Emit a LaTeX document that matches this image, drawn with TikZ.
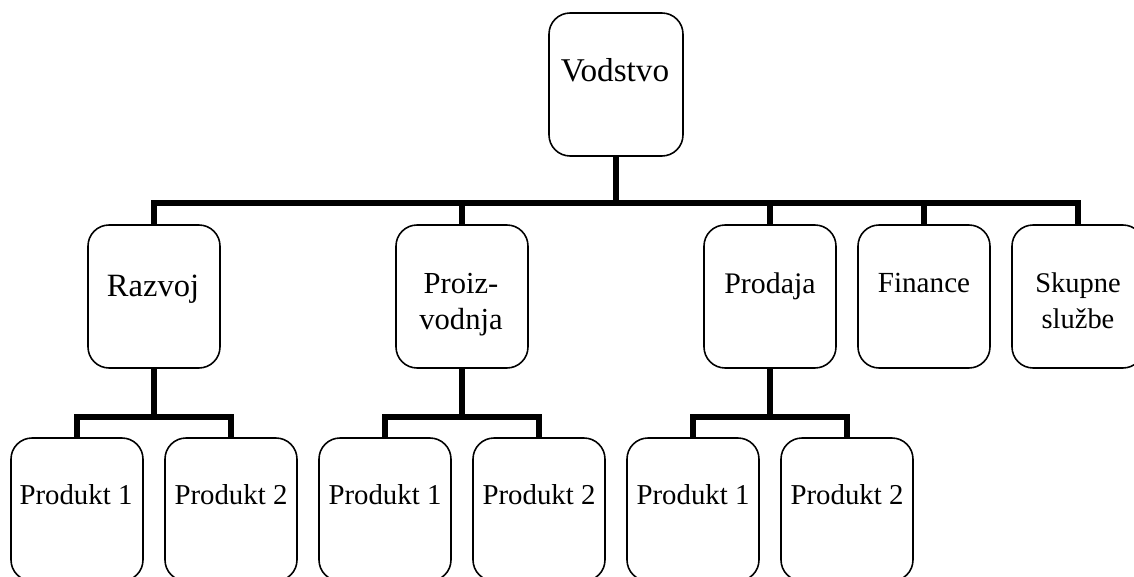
\documentclass[tikz,border=0pt]{standalone}
\usepackage{fontspec}
\setmainfont{Liberation Serif}
\begin{document}
\begin{tikzpicture}[x=0.02cm,y=-0.02cm,
  box/.style={draw=black, line width=0.9pt, rounded corners=12pt, minimum width=132*0.02cm, minimum height=143*0.02cm, inner sep=0pt},
  lbl/.style={inner sep=0pt, align=center},
  fs/.style={font=\fontsize{#1}{20.5}\selectfont},
  conn/.style={line width=3.4pt, line cap=butt}]
\useasboundingbox (0,0) rectangle (1134,577);
\fill[white] (0,0) rectangle (1134,577);
% boxes
\node[box, minimum width=134*0.02cm] (vod) at (616,84.5) {};
\node[box] (raz) at (154,296.5) {};
\node[box] (pro) at (462,296.5) {};
\node[box] (prd) at (770,296.5) {};
\node[box] (fin) at (924,296.5) {};
\node[box] (sku) at (1078,296.5) {};
\node[box] (r1) at (77,509.5) {};
\node[box] (r2) at (231,509.5) {};
\node[box] (p1) at (385,509.5) {};
\node[box] (p2) at (539,509.5) {};
\node[box] (d1) at (693,509.5) {};
\node[box] (d2) at (847,509.5) {};
% labels
\node[lbl, fs=18.9, anchor=base] (tvod) at (615,82) {Vodstvo};
\node[lbl, fs=18.5, anchor=base] (traz) at (153,297) {Razvoj};
\node[lbl, fs=17.4] (tpro) at (461,305) {Proiz-\\vodnja};
\node[lbl, fs=17, anchor=base] (tprd) at (770,294) {Prodaja};
\node[lbl, fs=16.6, anchor=base] (tfin) at (924,293) {Finance};
\node[lbl, fs=16.2] (tsku) at (1078,301) {Skupne\\službe};
\node[lbl, fs=16.4, anchor=base] (tr1) at (76,505) {Produkt 1};
\node[lbl, fs=16.4, anchor=base] (tr2) at (231,505) {Produkt 2};
\node[lbl, fs=16.4, anchor=base] (tp1) at (385,505) {Produkt 1};
\node[lbl, fs=16.4, anchor=base] (tp2) at (539,505) {Produkt 2};
\node[lbl, fs=16.4, anchor=base] (td1) at (693,505) {Produkt 1};
\node[lbl, fs=16.4, anchor=base] (td2) at (847,505) {Produkt 2};
% connectors
\coordinate (bus) at (616,203);
\draw[conn] (vod.south) -- (bus);
\draw[conn] (raz.north) |- (bus);
\draw[conn] (sku.north) |- (bus);
\draw[conn] (pro.north) -- (pro.north |- bus);
\draw[conn] (prd.north) -- (prd.north |- bus);
\draw[conn] (fin.north) -- (fin.north |- bus);
\coordinate (rb) at (154,417);
\coordinate (pb) at (462,417);
\coordinate (db) at (770,417);
\draw[conn] (raz.south) -- (rb);
\draw[conn] (r1.north) |- (rb) -| (r2.north);
\draw[conn] (pro.south) -- (pb);
\draw[conn] (p1.north) |- (pb) -| (p2.north);
\draw[conn] (prd.south) -- (db);
\draw[conn] (d1.north) |- (db) -| (d2.north);
\end{tikzpicture}
\end{document}
